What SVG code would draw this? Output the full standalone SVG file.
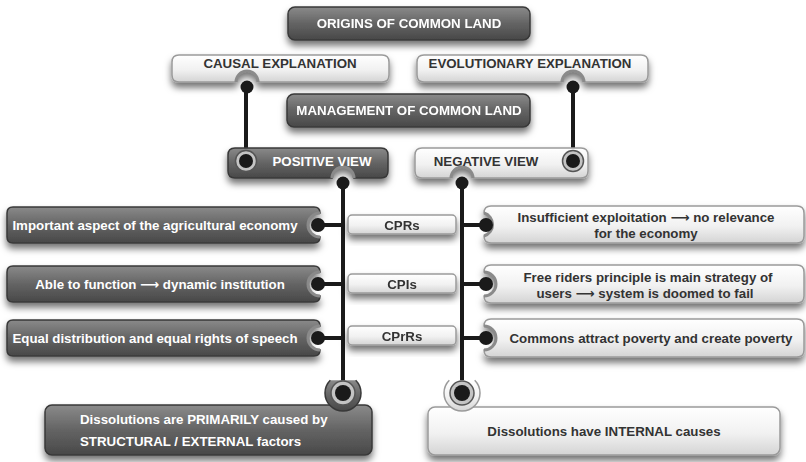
<svg xmlns="http://www.w3.org/2000/svg" width="806" height="462" viewBox="0 0 806 462">
<defs>
<linearGradient id="gDark" x1="0" y1="0" x2="0" y2="1">
<stop offset="0" stop-color="#8a8a8a"/><stop offset="0.5" stop-color="#646464"/><stop offset="1" stop-color="#484848"/>
</linearGradient>
<linearGradient id="gLight" x1="0" y1="0" x2="0" y2="1">
<stop offset="0" stop-color="#ffffff"/><stop offset="0.55" stop-color="#f1f1f1"/><stop offset="1" stop-color="#d4d4d4"/>
</linearGradient>
<filter id="sh" x="-10%" y="-30%" width="120%" height="190%">
<feDropShadow dx="0" dy="5" stdDeviation="3.5" flood-color="#000" flood-opacity="0.55"/>
</filter>
</defs>
<style>
.dk{fill:url(#gDark);stroke:#383838;stroke-width:1.5}
.lt{fill:url(#gLight);stroke:#9a9a9a;stroke-width:1.5}
.ring{fill:none;stroke:#8a8a8a;stroke-width:3}
.sock{fill:#c4c4c4;stroke:#555;stroke-width:1.5}
.dot{fill:#1a1a1a}
.ln{stroke:#1a1a1a;stroke-width:4;fill:none}
text{font-family:"Liberation Sans",Arial,"DejaVu Sans",sans-serif;font-weight:bold;font-size:13.3px}
.tw{fill:#ffffff}
.tk{fill:#333333}
</style>

<g id="connectors">
<line class="ln" x1="246" y1="86" x2="246" y2="161"/>
<line class="ln" x1="573" y1="86" x2="573" y2="161"/>
<line class="ln" x1="343" y1="183" x2="343" y2="394"/>
<line class="ln" x1="462" y1="183" x2="462" y2="394"/>
<line class="ln" x1="318" y1="225" x2="343" y2="225"/>
<line class="ln" x1="318" y1="284" x2="343" y2="284"/>
<line class="ln" x1="318" y1="338" x2="343" y2="338"/>
<line class="ln" x1="462" y1="225" x2="486" y2="225"/>
<line class="ln" x1="462" y1="284" x2="486" y2="284"/>
<line class="ln" x1="462" y1="338" x2="486" y2="338"/>
</g>

<g id="origins" filter="url(#sh)">
<rect class="dk" x="288" y="7" width="242" height="33" rx="7"/>
<text class="tw" x="409" y="28" text-anchor="middle">ORIGINS OF COMMON LAND</text>
</g>

<g id="causal">
<path class="lt" filter="url(#sh)" d="M179,55 H382 Q389,55 389,62 V75 Q389,82 382,82 H258 A11,11 0 0 0 236,82 H179 Q172,82 172,75 V62 Q172,55 179,55 Z"/>
<path class="ring" d="M258,82 A11,11 0 0 0 236,82"/>
<circle class="dot" cx="247" cy="87" r="6.5"/>
<text class="tk" x="280" y="68" text-anchor="middle">CAUSAL EXPLANATION</text>
</g>

<g id="evolutionary">
<path class="lt" filter="url(#sh)" d="M424,55 H641 Q648,55 648,62 V75 Q648,82 641,82 H584 A11,11 0 0 0 562,82 H424 Q417,82 417,75 V62 Q417,55 424,55 Z"/>
<path class="ring" d="M584,82 A11,11 0 0 0 562,82"/>
<circle class="dot" cx="573" cy="87" r="6.5"/>
<text class="tk" x="530" y="68" text-anchor="middle">EVOLUTIONARY EXPLANATION</text>
</g>

<g id="management" filter="url(#sh)">
<rect class="dk" x="287" y="94" width="243" height="33" rx="7"/>
<text class="tw" x="409" y="115" text-anchor="middle">MANAGEMENT OF COMMON LAND</text>
</g>

<g id="positive">
<path class="dk" filter="url(#sh)" d="M235,148 H381 Q388,148 388,155 V171 Q388,178 381,178 H354 A11,11 0 0 0 332,178 H235 Q228,178 228,171 V155 Q228,148 235,148 Z"/>
<path class="ring" d="M354,178 A11,11 0 0 0 332,178"/>
<circle class="sock" cx="246" cy="161" r="10.5"/>
<circle class="dot" cx="246" cy="161" r="7"/>
<circle class="dot" cx="343" cy="183" r="6.5"/>
<text class="tw" x="322" y="166" text-anchor="middle">POSITIVE VIEW</text>
</g>

<g id="negative">
<path class="lt" filter="url(#sh)" d="M422,148 H581 Q588,148 588,155 V171 Q588,178 581,178 H473 A11,11 0 0 0 451,178 H422 Q415,178 415,171 V155 Q415,148 422,148 Z"/>
<path class="ring" d="M473,178 A11,11 0 0 0 451,178"/>
<circle class="sock" cx="573" cy="161" r="10.5"/>
<circle class="dot" cx="573" cy="161" r="7"/>
<circle class="dot" cx="462" cy="183" r="6.5"/>
<text class="tk" x="486" y="166" text-anchor="middle">NEGATIVE VIEW</text>
</g>

<g id="pos1">
<path class="dk" filter="url(#sh)" d="M13,207 H314 Q320,207 320,213 A12,12 0 0 0 320,237 Q320,243 314,243 H13 Q7,243 7,237 V213 Q7,207 13,207 Z"/>
<path class="ring" d="M320,213 A12,12 0 0 0 320,237"/>
<circle class="dot" cx="318" cy="225" r="7"/>
<text class="tw" x="155" y="230" text-anchor="middle">Important aspect of the agricultural economy</text>
</g>
<g id="pos2">
<path class="dk" filter="url(#sh)" d="M13,266 H314 Q320,266 320,272 A12,12 0 0 0 320,296 Q320,302 314,302 H13 Q7,302 7,296 V272 Q7,266 13,266 Z"/>
<path class="ring" d="M320,272 A12,12 0 0 0 320,296"/>
<circle class="dot" cx="318" cy="284" r="7"/>
<text class="tw" x="160" y="289" text-anchor="middle">Able to function ⟶ dynamic institution</text>
</g>
<g id="pos3">
<path class="dk" filter="url(#sh)" d="M13,320 H314 Q320,320 320,326 A12,12 0 0 0 320,350 Q320,356 314,356 H13 Q7,356 7,350 V326 Q7,320 13,320 Z"/>
<path class="ring" d="M320,326 A12,12 0 0 0 320,350"/>
<circle class="dot" cx="318" cy="338" r="7"/>
<text class="tw" x="155" y="343" text-anchor="middle">Equal distribution and equal rights of speech</text>
</g>

<g id="cprs" filter="url(#sh)">
<rect class="lt" x="348" y="215" width="108" height="19" rx="4"/>
<text class="tk" x="402" y="229.5" text-anchor="middle">CPRs</text>
</g>
<g id="cpis" filter="url(#sh)">
<rect class="lt" x="348" y="274" width="108" height="19" rx="4"/>
<text class="tk" x="402" y="288.5" text-anchor="middle">CPIs</text>
</g>
<g id="cprrs" filter="url(#sh)">
<rect class="lt" x="348" y="326" width="108" height="19" rx="4"/>
<text class="tk" x="402" y="340.5" text-anchor="middle">CPrRs</text>
</g>

<g id="neg1">
<path class="lt" filter="url(#sh)" d="M484,213 Q484,206 491,206 H797 Q804,206 804,213 V236 Q804,243 797,243 H491 Q484,243 484,236 A12,12 0 0 0 484,213 Z"/>
<path class="ring" d="M484,236 A12,12 0 0 0 484,213"/>
<circle class="dot" cx="486" cy="225" r="7"/>
<text class="tk" x="646" y="222" text-anchor="middle">Insufficient exploitation ⟶ no relevance</text>
<text class="tk" x="646" y="238" text-anchor="middle">for the economy</text>
</g>
<g id="neg2">
<path class="lt" filter="url(#sh)" d="M484,272 Q484,265 491,265 H797 Q804,265 804,272 V296 Q804,303 797,303 H491 Q484,303 484,296 A12,12 0 0 0 484,272 Z"/>
<path class="ring" d="M484,296 A12,12 0 0 0 484,272"/>
<circle class="dot" cx="486" cy="284" r="7"/>
<text class="tk" x="648" y="282" text-anchor="middle">Free riders principle is main strategy of</text>
<text class="tk" x="645" y="298" text-anchor="middle">users ⟶ system is doomed to fail</text>
</g>
<g id="neg3">
<path class="lt" filter="url(#sh)" d="M484,326 Q484,319 491,319 H797 Q804,319 804,326 V350 Q804,357 797,357 H491 Q484,357 484,350 A12,12 0 0 0 484,326 Z"/>
<path class="ring" d="M484,350 A12,12 0 0 0 484,326"/>
<circle class="dot" cx="486" cy="338" r="7"/>
<text class="tk" x="651" y="343" text-anchor="middle">Commons attract poverty and create poverty</text>
</g>

<g id="posResult">
<rect class="dk" filter="url(#sh)" x="45" y="405" width="327" height="50" rx="7"/>
<path class="dk" d="M330.3,380.3 A18,18 0 1 0 355.7,380.3"/>
<circle class="sock" cx="343" cy="393" r="12"/>
<circle class="dot" cx="343" cy="393" r="8"/>
<text class="tw" x="80" y="424">Dissolutions are PRIMARILY caused by</text>
<text class="tw" x="80" y="446">STRUCTURAL / EXTERNAL factors</text>
</g>

<g id="negResult">
<rect class="lt" filter="url(#sh)" x="428" y="407" width="352" height="48" rx="7"/>
<path class="lt" d="M449.3,380.3 A18,18 0 1 0 474.7,380.3"/>
<circle class="sock" cx="462" cy="393" r="12"/>
<circle class="dot" cx="462" cy="393" r="8"/>
<text class="tk" x="604" y="436" text-anchor="middle">Dissolutions have INTERNAL causes</text>
</g>
</svg>
